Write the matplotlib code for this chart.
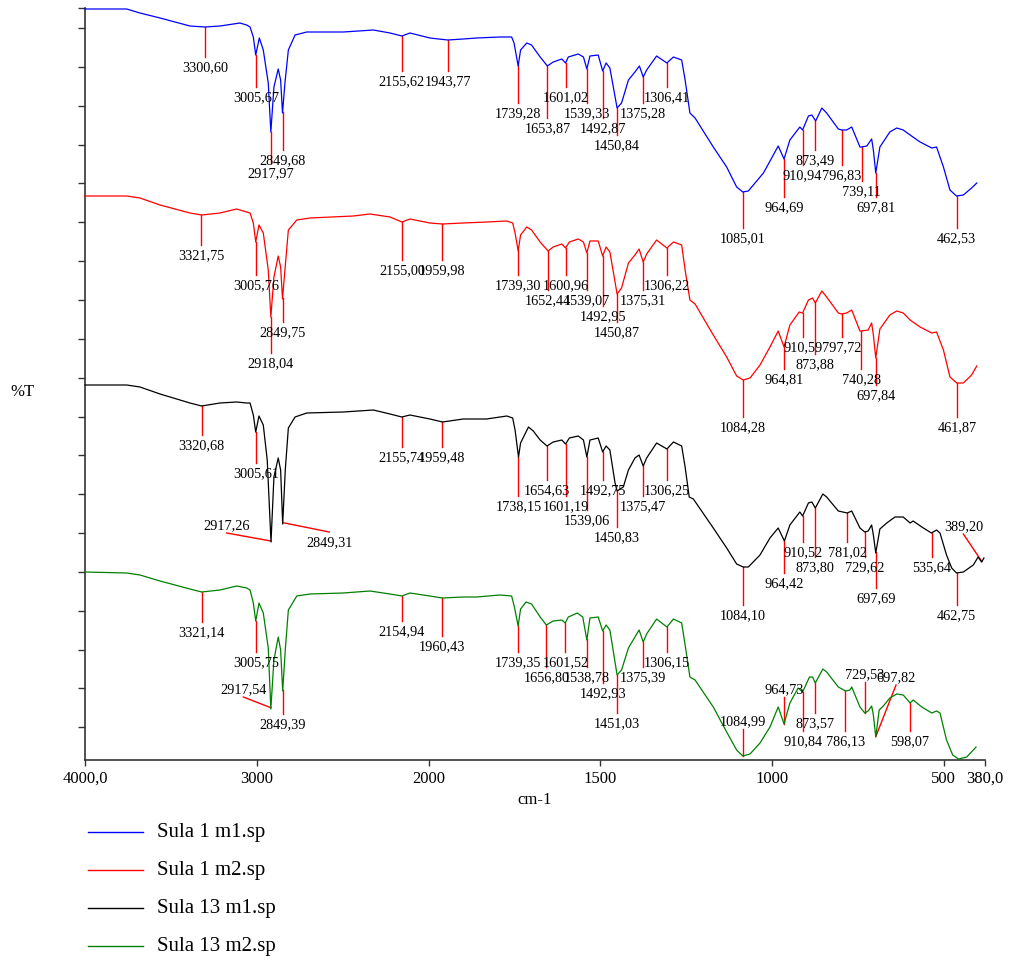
import numpy as np
import matplotlib
matplotlib.use('Agg')
import matplotlib.pyplot as plt
from matplotlib.lines import Line2D
from matplotlib.ticker import NullLocator

plt.rcParams['font.family'] = ['Liberation Serif', 'DejaVu Serif']

# spectra (wavenumber cm-1, %T in arbitrary offset units)
blue_wn = [4000, 3757, 3680, 3563, 3389, 3301, 3214, 3098, 3059, 3039, 3020, 3006, 2985, 2962, 2933, 2918, 2900, 2875,
           2861, 2850, 2836, 2816, 2777, 2709, 2496, 2321, 2224, 2155, 2108, 1996, 1944, 1899, 1860, 1792, 1758, 1751,
           1739, 1732, 1714, 1700, 1675, 1654, 1637, 1612, 1601, 1593, 1564, 1549, 1539, 1530, 1506, 1493, 1483, 1472,
           1451, 1438, 1418, 1399, 1386, 1375, 1365, 1336, 1306, 1287, 1263, 1253, 1239, 1224, 1171, 1132, 1103, 1085,
           1069, 1025, 1001, 982, 965, 948, 919, 911, 894, 884, 873, 855, 841, 807, 797, 783, 768, 744, 739, 724, 710,
           705, 698, 686, 657, 637, 618, 598, 569, 535, 521, 501, 482, 463, 443, 419, 404]
blue_t = [75.1, 75.1, 74.7, 74.2, 73.4, 73.3, 73.4, 73.7, 73.5, 73.3, 72.3, 70.5, 72.2, 71.0, 67.7, 62.8, 67.3, 69.1,
          68.0, 64.7, 67.7, 71.0, 72.5, 72.8, 72.8, 73.0, 72.7, 72.4, 72.7, 72.2, 72.0, 72.1, 72.2, 72.3, 72.3, 71.7,
          69.4, 71.0, 71.7, 71.5, 70.3, 69.4, 69.8, 70.1, 69.7, 70.3, 70.6, 70.3, 69.1, 70.4, 70.5, 68.9, 69.7, 69.2,
          65.2, 65.7, 68.0, 68.8, 69.4, 68.3, 69.0, 70.4, 69.7, 70.3, 70.0, 68.0, 64.7, 64.2, 61.3, 59.3, 57.3, 56.8,
          56.9, 58.7, 60.2, 61.4, 60.1, 62.0, 63.3, 63.0, 64.4, 64.5, 63.9, 65.2, 64.7, 63.1, 63.0, 63.0, 63.3, 61.3,
          61.3, 61.4, 62.1, 61.0, 58.7, 61.3, 62.8, 63.2, 63.0, 62.5, 61.8, 61.2, 61.3, 59.3, 57.0, 56.4, 56.5, 57.2,
          57.7]

red_wn = [4000, 3757, 3680, 3563, 3389, 3321, 3214, 3117, 3059, 3039, 3020, 3006, 2987, 2962, 2933, 2918, 2900, 2875,
          2861, 2850, 2836, 2816, 2767, 2690, 2438, 2341, 2224, 2155, 2108, 1996, 1960, 1899, 1831, 1772, 1755, 1748,
          1739, 1732, 1714, 1700, 1675, 1652, 1637, 1612, 1601, 1590, 1564, 1549, 1539, 1530, 1506, 1493, 1483, 1472,
          1451, 1438, 1418, 1399, 1387, 1375, 1365, 1336, 1306, 1287, 1263, 1253, 1239, 1224, 1171, 1132, 1103, 1084,
          1064, 1035, 1006, 982, 965, 948, 921, 911, 894, 882, 874, 855, 841, 807, 798, 783, 768, 744, 740, 720, 710,
          705, 698, 686, 657, 637, 618, 598, 569, 535, 521, 501, 482, 462, 443, 419, 404]
red_t = [56.4, 56.4, 56.2, 55.5, 54.7, 54.5, 54.7, 55.1, 54.8, 54.7, 53.7, 51.8, 53.5, 52.7, 49.0, 44.3, 48.3, 50.4,
         49.3, 46.1, 49.0, 53.0, 54.0, 54.2, 54.4, 54.6, 54.3, 53.8, 54.1, 53.7, 53.6, 53.7, 53.8, 53.9, 53.7, 52.7,
         50.9, 52.5, 53.3, 53.0, 51.8, 50.9, 51.3, 51.6, 51.2, 51.8, 52.1, 51.8, 50.7, 51.9, 51.9, 50.4, 51.3, 50.8,
         46.6, 47.2, 49.7, 50.5, 51.1, 49.8, 50.6, 52.0, 51.2, 51.8, 51.5, 49.0, 46.0, 45.6, 42.5, 40.3, 38.4, 38.0,
         38.2, 39.5, 41.3, 42.9, 41.3, 43.5, 44.8, 44.7, 46.0, 46.2, 45.7, 46.9, 46.3, 44.7, 44.6, 44.7, 45.0, 42.9,
         42.9, 43.0, 43.7, 42.5, 40.2, 43.1, 44.5, 44.9, 44.7, 44.0, 43.3, 42.7, 42.8, 41.0, 38.3, 37.7, 37.7, 38.5,
         39.4]

black_wn = [4000, 3757, 3680, 3563, 3389, 3321, 3214, 3117, 3059, 3039, 3020, 3006, 2987, 2962, 2939, 2917, 2900, 2875,
            2861, 2849, 2834, 2816, 2777, 2709, 2496, 2321, 2224, 2156, 2108, 1996, 1959, 1899, 1831, 1772, 1755, 1748,
            1738, 1732, 1709, 1695, 1675, 1655, 1637, 1612, 1601, 1590, 1564, 1549, 1539, 1530, 1506, 1493, 1483, 1472,
            1457, 1451, 1433, 1418, 1399, 1387, 1375, 1365, 1336, 1306, 1287, 1263, 1253, 1241, 1229, 1171, 1132, 1103,
            1084, 1069, 1035, 1006, 982, 964, 948, 919, 911, 894, 884, 874, 852, 841, 807, 781, 768, 744, 730, 720, 710,
            705, 698, 686, 666, 642, 618, 598, 589, 564, 536, 521, 511, 492, 477, 463, 443, 414, 400, 390, 383]
black_t = [37.5, 37.5, 37.3, 36.6, 35.7, 35.4, 35.7, 35.8, 35.7, 35.7, 34.5, 32.8, 34.4, 33.5, 30.0, 21.8, 28.3, 30.2,
           29.0, 23.6, 29.0, 33.2, 34.3, 34.7, 34.8, 35.0, 34.6, 34.3, 34.5, 34.1, 33.8, 34.1, 34.1, 34.4, 34.2, 33.0,
           30.3, 31.7, 33.3, 32.9, 32.0, 31.4, 31.8, 32.0, 31.6, 32.2, 32.4, 32.0, 30.3, 32.0, 32.2, 30.8, 31.4, 31.0,
           27.7, 26.9, 27.3, 29.0, 30.2, 30.5, 29.4, 30.2, 31.7, 31.1, 31.8, 31.4, 29.3, 26.3, 26.1, 23.2, 21.2, 19.6,
           19.3, 19.3, 20.5, 22.2, 23.2, 21.9, 23.5, 24.8, 24.4, 25.7, 25.8, 25.2, 26.6, 26.3, 24.9, 24.7, 24.9, 23.2,
           22.8, 22.9, 23.5, 22.5, 20.7, 23.1, 23.7, 24.3, 24.3, 23.7, 23.9, 23.3, 22.7, 23.0, 22.7, 20.5, 19.2, 18.7,
           18.8, 19.5, 20.3, 19.8, 20.2]

green_wn = [4000, 3757, 3680, 3563, 3389, 3321, 3214, 3117, 3059, 3039, 3020, 3006, 2987, 2962, 2933, 2918, 2900, 2875,
            2861, 2849, 2834, 2816, 2767, 2690, 2496, 2341, 2224, 2155, 2108, 1996, 1960, 1899, 1860, 1792, 1758, 1750,
            1739, 1732, 1716, 1700, 1675, 1657, 1637, 1612, 1602, 1593, 1567, 1551, 1539, 1530, 1506, 1493, 1483, 1472,
            1451, 1438, 1418, 1399, 1387, 1375, 1365, 1336, 1306, 1287, 1263, 1253, 1239, 1224, 1171, 1132, 1103, 1085,
            1064, 1035, 1006, 982, 965, 948, 924, 911, 891, 882, 874, 852, 841, 807, 786, 773, 768, 744, 730, 720, 710,
            705, 698, 688, 676, 657, 637, 618, 598, 589, 564, 535, 521, 511, 492, 474, 457, 433, 406]
green_t = [18.8, 18.7, 18.5, 17.9, 17.1, 16.8, 17.0, 17.4, 17.2, 17.0, 15.7, 13.9, 15.7, 14.7, 11.2, 5.1, 10.0, 12.3,
           11.0, 6.9, 11.0, 15.0, 16.4, 16.6, 16.7, 16.9, 16.6, 16.4, 16.7, 16.4, 16.2, 16.3, 16.3, 16.5, 16.4, 15.3,
           13.4, 15.1, 15.8, 15.6, 14.3, 13.5, 13.9, 14.0, 13.7, 14.3, 14.7, 14.3, 12.0, 14.2, 14.3, 12.9, 13.5, 13.0,
           8.5, 9.0, 11.2, 12.3, 13.0, 11.8, 12.6, 14.1, 13.3, 14.1, 13.7, 11.5, 8.3, 8.0, 5.3, 2.8, 1.0, 0.4,
           0.6, 1.7, 3.3, 5.3, 3.6, 5.7, 7.2, 6.8, 8.3, 8.3, 7.7, 9.1, 8.8, 7.3, 6.9, 7.0, 7.3, 5.3,
           4.7, 4.9, 5.4, 4.5, 2.3, 5.0, 5.4, 6.2, 6.6, 6.5, 5.7, 6.0, 5.3, 4.7, 4.9, 4.7, 2.0, 0.5,
           0.1, 0.3, 1.3]

# picked peaks
blue_peaks = [3300.60, 3005.67, 2917.97, 2849.68, 2155.62, 1943.77, 1739.28, 1653.87, 1601.02, 1539.33, 1492.87,
              1450.84, 1375.28, 1306.41, 1085.01, 964.69, 910.94, 873.49, 796.83, 739.11, 697.81, 462.53]
red_peaks = [3321.75, 3005.76, 2918.04, 2849.75, 2155.00, 1959.98, 1739.30, 1652.44, 1600.96, 1539.07, 1492.95,
             1450.87, 1375.31, 1306.22, 1084.28, 964.81, 910.59, 873.88, 797.72, 740.28, 697.84, 461.87]
black_peaks = [3320.68, 3005.61, 2917.26, 2849.31, 2155.74, 1959.48, 1738.15, 1654.63, 1601.19, 1539.06, 1492.75,
               1450.83, 1375.47, 1306.25, 1084.10, 964.42, 910.52, 873.80, 781.02, 729.62, 697.69, 535.64, 462.75,
               389.20]
green_peaks = [3321.14, 3005.75, 2917.54, 2849.39, 2154.94, 1960.43, 1739.35, 1656.80, 1601.52, 1538.78, 1492.93,
               1451.03, 1375.39, 1306.15, 1084.99, 964.73, 910.84, 873.57, 786.13, 729.53, 697.82, 598.07]

# where each red leader line ends (layout)
blue_ends = [70.3, 67.3, 59.7, 61.0, 68.9, 68.9, 65.7, 64.2, 67.3, 65.7, 64.2, 62.5, 65.7, 67.3, 53.2, 56.3, 59.5,
             61.0, 59.5, 57.9, 56.3, 53.2]
red_ends = [51.5, 48.5, 40.7, 43.8, 50.0, 50.0, 48.5, 47.0, 48.5, 47.0, 45.4, 43.8, 47.0, 48.5, 34.3, 39.1, 42.3,
            40.6, 42.3, 39.1, 37.5, 34.3]
black_ends = [32.5, 29.7, 22.7, 22.8, 31.3, 31.3, 26.4, 28.0, 26.4, 25.0, 28.0, 23.3, 26.4, 28.0, 15.5, 18.7, 21.8,
              20.3, 21.8, 20.3, 17.2, 20.3, 15.5, 22.6]
green_ends = [13.8, 10.8, 6.3, 4.6, 13.9, 12.4, 10.8, 9.3, 10.8, 9.3, 7.7, 4.7, 9.3, 10.8, 3.1, 6.3, 2.9, 4.7, 2.9,
              7.8, 7.5, 2.9]
black_bends = {2917.26: 3175, 2849.31: 2578, 389.20: 443}
green_bends = {2917.54: 3078, 697.82: 639}

names = ['Sula 1 m1.sp', 'Sula 1 m2.sp', 'Sula 13 m1.sp', 'Sula 13 m2.sp']
colors = ['#0000ff', '#ff0000', '#000000', '#008000']
x_ticks = [4000, 3000, 2000, 1500, 1000, 500, 380]
x_ticklabels = ['4000,0', '3000', '2000', '1500', '1000', '500', '380,0']


def fwd(x):
    x = np.asarray(x, dtype=float)
    return np.where(x > 2000, 2000 + (x - 2000) / 2.0, x)


def inv(x):
    x = np.asarray(x, dtype=float)
    return np.where(x > 2000, 2000 + (x - 2000) * 2.0, x)


W, H = 1009, 966
fig = plt.figure(figsize=(W / 100, H / 100), dpi=100)
ax = fig.add_axes([85 / W, 1 - 760 / H, 900 / W, 752 / H])
ax.set_xscale('function', functions=(fwd, inv))
ax.set_xlim(4000, 380)
ax.set_ylim(0, 75.2)

series = [(blue_wn, blue_t, blue_peaks, blue_ends, {}),
          (red_wn, red_t, red_peaks, red_ends, {}),
          (black_wn, black_t, black_peaks, black_ends, black_bends),
          (green_wn, green_t, green_peaks, green_ends, green_bends)]

for (wn, t, peaks, ends, bends), col in zip(series, colors):
    ax.plot(wn, t, color=col, lw=0.9, clip_on=False, zorder=3)
    for p, e in zip(peaks, ends):
        y0 = np.interp(p, wn[::-1], t[::-1])
        xe = bends.get(p, p)
        ax.plot([p, xe], [y0, e], color='red', lw=1.0, clip_on=False, zorder=2)
        label = f"{p:.2f}".replace('.', ',')
        if e > y0:
            ax.annotate(label, (xe, e), xytext=(0, 0.5), textcoords='offset points',
                        ha='center', va='bottom', fontsize=10.3)
        else:
            ax.annotate(label, (xe, e), xytext=(0, -3), textcoords='offset points',
                        ha='center', va='top', fontsize=10.3)

ax.set_xticks(x_ticks)
ax.set_xticklabels(x_ticklabels)
ax.xaxis.set_minor_locator(NullLocator())
ax.set_yticks(list(3.27 + 3.885 * np.arange(19)) + [75.2])
ax.yaxis.set_minor_locator(NullLocator())
ax.tick_params(axis='x', direction='out', length=4, width=1, labelsize=12, pad=4, color='#333333')
ax.tick_params(axis='y', direction='out', length=5, width=1, labelleft=False, color='#333333')
for s in ['top', 'right']:
    ax.spines[s].set_visible(False)
for s in ['left', 'bottom']:
    ax.spines[s].set_color('#333333')
    ax.spines[s].set_linewidth(1.2)

fig.text(535 / W, 1 - 800 / H, 'cm-1', ha='center', va='center', fontsize=12)
fig.text(22 / W, 1 - 392 / H, '%T', ha='center', va='center', fontsize=12)

# legend drawn by hand below the axis
for i, (name, col) in enumerate(zip(names, colors)):
    y = 1 - (832 + 38 * i) / H
    fig.add_artist(Line2D([88 / W, 143 / W], [y, y], color=col, lw=1.0))
    fig.text(157 / W, y, name, ha='left', va='center', fontsize=15)

fig.savefig('out.png', dpi=100)
